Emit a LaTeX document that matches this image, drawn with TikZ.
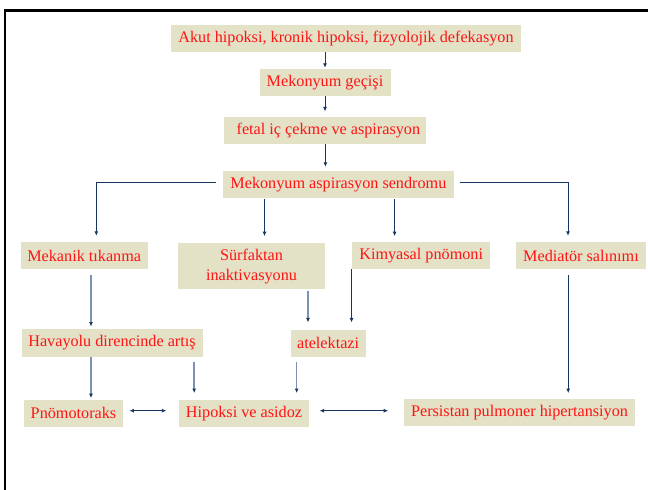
\documentclass[tikz,border=0pt]{standalone}
\usepackage{fontspec}
\setmainfont{Liberation Serif}
\usetikzlibrary{arrows.meta}
\definecolor{boxfill}{RGB}{227,225,198}
\definecolor{txtred}{RGB}{255,20,20}
\definecolor{navy}{RGB}{23,55,94}
\definecolor{lightln}{RGB}{125,145,178}
\begin{document}
\begin{tikzpicture}[x=1pt,y=-1pt,
  box/.style={fill=boxfill, text=txtred, inner sep=0pt, font=\fontsize{16.2}{20}\selectfont, align=center},
  dk/.style={draw=navy, line width=1pt, -{Latex[length=4.5pt,width=4pt]}},
  lt/.style={draw=lightln, line width=1.5pt, -{Latex[length=4.5pt,width=4pt,color=navy]}},
  both/.style={draw=navy, line width=1pt, {Latex[length=4.5pt,width=4pt]}-{Latex[length=4.5pt,width=4pt]}}]
\useasboundingbox (0,0) rectangle (648,490);
\fill[white] (0,0) rectangle (648,490);
% frame
\draw[line width=3pt] (4,10.5) -- (648,10.5);
\draw[line width=2.2pt] (5.3,9) -- (5.3,490);
% nodes
\node[box, minimum width=350pt, minimum height=27pt] (akut) at (346,38.5) {Akut hipoksi, kronik hipoksi, fizyolojik defekasyon};
\node[box, minimum width=131pt, minimum height=27pt] (gecis) at (325,82.5) {Mekonyum geçişi};
\node[box, minimum width=202pt, minimum height=27.3pt] (fetal) at (325.4,130.3) {\hspace*{6pt}fetal iç çekme ve aspirasyon};
\node[box, minimum width=230.7pt, minimum height=26.7pt] (mas) at (338.4,184.4) {Mekonyum aspirasyon sendromu};
\node[box, minimum width=127pt, minimum height=27pt] (mekanik) at (84.2,255.5) {Mekanik tıkanma};
\node[box, minimum width=147pt, minimum height=45.7pt] (surf) at (251.5,266.2) {Sürfaktan\\inaktivasyonu};
\node[box, minimum width=137.7pt, minimum height=26.7pt] (kimya) at (421.2,255.7) {Kimyasal pnömoni};
\node[box, minimum width=130pt, minimum height=27pt] (medi) at (581,255.5) {Mediatör salınımı};
\node[box, minimum width=181pt, minimum height=27.4pt] (hava) at (112,343) {Havayolu direncinde artış};
\node[box, minimum width=75.2pt, minimum height=26.7pt] (atel) at (328.1,343.3) {atelektazi};
\node[box, minimum width=99pt, minimum height=26.7pt] (pnomo) at (73.5,413.3) {Pnömotoraks};
\node[box, minimum width=130pt, minimum height=26.7pt] (hipoksi) at (244,413.3) {Hipoksi ve asidoz};
\node[box, minimum width=231pt, minimum height=26.4pt] (persis) at (519.5,412.5) {Persistan pulmoner hipertansiyon};
% top chain
\draw[dk, shorten >=1pt] (akut.south -| gecis.north) -- (gecis.north);
\draw[dk, shorten >=5pt] (gecis.south) -- (fetal.north -| gecis.south);
\draw[dk, shorten >=4pt] (fetal.south) -- (mas.north -| fetal.south);
% from MAS
\coordinate (m4) at ([xshift=12.1pt]mekanik.north);
\coordinate (s5) at ([xshift=13pt]surf.north);
\coordinate (k6) at ([xshift=-26.6pt]kimya.north);
\coordinate (m7) at ([xshift=-13pt]medi.north);
\draw[dk, shorten <=7pt, shorten >=6pt] ([yshift=2pt]mas.west) -| (m4);
\draw[dk, shorten <=1.3pt, shorten >=7pt] (s5 |- mas.south) -- (s5);
\draw[dk, shorten <=1.3pt, shorten >=6pt] (k6 |- mas.south) -- (k6);
\draw[dk, shorten <=6.3pt, shorten >=6pt] ([yshift=2pt]mas.east) -| (m7);
% row 2 -> row 3
\coordinate (b1) at ([xshift=6.8pt]mekanik.south);
\draw[lt, shorten <=6pt, shorten >=2.6pt] (b1) -- (b1 |- hava.north);
\coordinate (b2) at ([xshift=56.5pt]surf.south);
\draw[lt, shorten <=2pt, shorten >=7.3pt] (b2) -- (b2 |- atel.north);
\coordinate (b3) at ([xshift=-0.6pt]kimya.south west);
\draw[dk, shorten >=7.3pt] (b3) -- (b3 |- atel.north);
\coordinate (b4) at ([xshift=-12.8pt]medi.south);
\draw[dk, shorten <=6pt, shorten >=6pt] (b4) -- (b4 |- persis.north);
% row 3 -> row 4
\coordinate (c1) at ([xshift=-21pt]hava.south);
\draw[lt, shorten >=1.7pt] (c1) -- (c1 |- pnomo.north);
\coordinate (c2) at ([xshift=82.2pt]hava.south);
\draw[lt, shorten <=5pt, shorten >=6.7pt] (c2) -- (c2 |- hipoksi.north);
\coordinate (c3) at ([xshift=-31.4pt]atel.south);
\draw[lt, shorten <=5pt, shorten >=6.7pt] (c3) -- (c3 |- hipoksi.north);
% double arrows
\coordinate (d1) at ([yshift=2.6pt]pnomo.east);
\draw[both, shorten <=6.2pt, shorten >=12.5pt] (d1) -- (d1 -| hipoksi.west);
\coordinate (d2) at ([yshift=2.6pt]hipoksi.east);
\draw[both, shorten <=10.4pt, shorten >=15.6pt] (d2) -- (d2 -| persis.west);
\end{tikzpicture}
\end{document}
